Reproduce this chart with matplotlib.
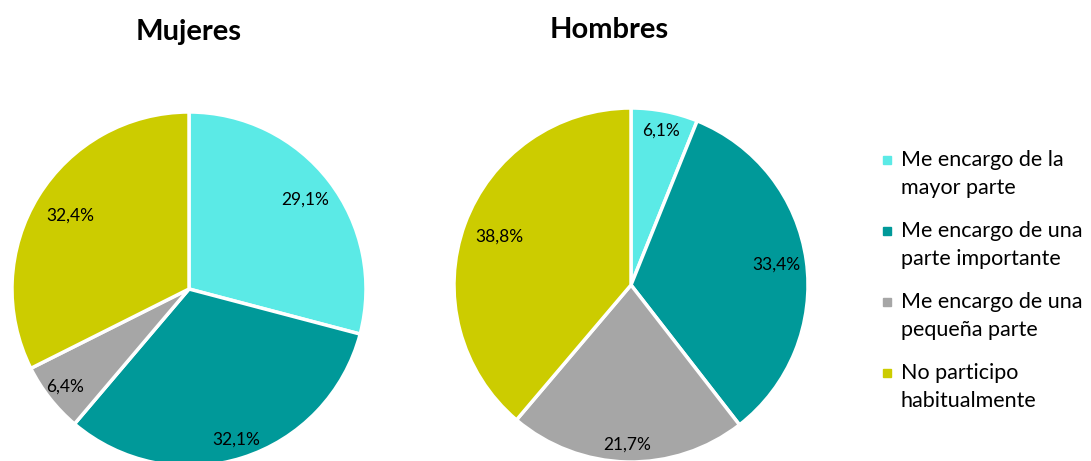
import matplotlib
matplotlib.use("Agg")
import matplotlib.pyplot as plt
import numpy as np

plt.rcParams['font.family'] = ['Lato', 'DejaVu Sans']

categories = ['Me encargo de la\nmayor parte',
              'Me encargo de una\nparte importante',
              'Me encargo de una\npequeña parte',
              'No participo\nhabitualmente']
mujeres = [29.1, 32.1, 6.4, 32.4]
hombres = [6.1, 33.4, 21.7, 38.8]
colors = ['#5BEAE6', '#009999', '#A6A6A6', '#CCCC00']

W, H = 1091, 461
fig = plt.figure(figsize=(W / 100, H / 100), dpi=100)


def pie_axes(cx, cy, r):
    # axes placed in pixel units, pie of radius 1 filling it
    return fig.add_axes([(cx - r) / W, (H - cy - r) / H, 2 * r / W, 2 * r / H])


def draw_pie(ax, values, label_dist):
    wedges, _ = ax.pie(values, colors=colors, startangle=90, counterclock=False,
                       radius=1.0,
                       wedgeprops=dict(edgecolor='white', linewidth=2.5))
    for w, v, d in zip(wedges, values, label_dist):
        ang = np.deg2rad((w.theta1 + w.theta2) / 2)
        ax.text(d * np.cos(ang), d * np.sin(ang), f'{v:.1f}%'.replace('.', ','),
                ha='center', va='center', fontsize=12.5, color='black')
    ax.set_xlim(-1, 1)
    ax.set_ylim(-1, 1)
    ax.set_aspect('equal')
    ax.axis('off')


ax1 = pie_axes(189, 289, 177)
draw_pie(ax1, mujeres, [0.83, 0.89, 0.89, 0.79])
ax2 = pie_axes(631, 285, 177)
draw_pie(ax2, hombres, [0.89, 0.83, 0.9, 0.79])

fig.text(189 / W, 1 - 32 / H, 'Mujeres', ha='center', va='center',
         fontsize=21, fontweight='bold')
fig.text(609 / W, 1 - 30 / H, 'Hombres', ha='center', va='center',
         fontsize=21, fontweight='bold')

# legend drawn by hand so the square sits on the first text line
lax = fig.add_axes([0, 0, 1, 1], zorder=-1)
lax.set_xlim(0, W)
lax.set_ylim(H, 0)
lax.axis('off')
for i, (cat, c) in enumerate(zip(categories, colors)):
    y = 160 + 71 * i
    lax.plot(887, y, marker='s', markersize=6, color=c, linestyle='none')
    lax.text(901, y - 10, cat, ha='left', va='top', fontsize=15.5,
             linespacing=1.5)

fig.savefig('out.png', dpi=100, facecolor='white')
